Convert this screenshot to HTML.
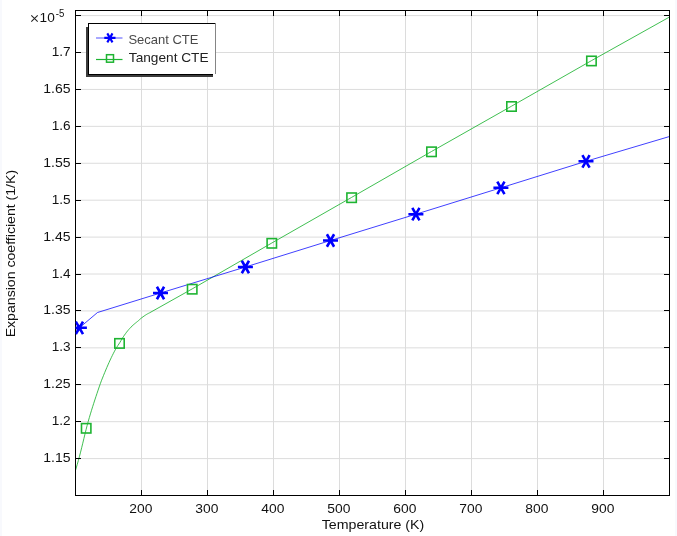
<!DOCTYPE html><html><head><meta charset="utf-8"><style>
html,body{margin:0;padding:0;background:#fff;}
body{width:677px;height:536px;overflow:hidden;position:relative;font-family:"Liberation Sans",sans-serif;}
svg{position:absolute;left:0;top:0;will-change:transform;}
text{font-family:"Liberation Sans",sans-serif;}
</style></head><body>
<svg width="677" height="536" viewBox="0 0 677 536">
<defs><clipPath id="pc"><rect x="75.5" y="10.5" width="594" height="485"/></clipPath></defs>
<rect x="0" y="0" width="677" height="536" fill="#fff"/>
<rect x="0" y="0" width="2" height="536" fill="#f8f9fd"/>
<rect x="675" y="0" width="2" height="536" fill="#f8f9fd"/>
<path d="M141.5 11V495M207.5 11V495M273.5 11V495M339.5 11V495M405.5 11V495M471.5 11V495M537.5 11V495M603.5 11V495" stroke="#dcdcdc" stroke-width="1" fill="none" shape-rendering="crispEdges"/>
<path d="M76 15.600H669M76 52.517H669M76 89.433H669M76 126.350H669M76 163.267H669M76 200.183H669M76 237.100H669M76 274.017H669M76 310.933H669M76 347.850H669M76 384.767H669M76 421.683H669M76 458.600H669" stroke="#dcdcdc" stroke-width="1" fill="none"/>
<g clip-path="url(#pc)">
<path d="M74.00 475.50 L75.10 471.76 L76.19 468.00 L77.29 464.25 L78.38 460.43 L79.48 456.42 L80.57 452.17 L81.67 447.74 L82.77 443.22 L83.86 438.65 L84.96 434.12 L86.05 429.68 L87.15 425.42 L88.24 421.40 L89.34 417.59 L90.43 413.89 L91.53 410.29 L92.63 406.78 L93.72 403.34 L94.82 399.97 L95.91 396.66 L97.01 393.39 L98.10 390.15 L99.20 386.93 L100.30 383.77 L101.39 380.79 L102.49 378.02 L103.58 375.31 L104.68 372.63 L105.77 370.00 L106.87 367.42 L107.97 364.89 L109.06 362.43 L110.16 360.03 L111.25 357.70 L112.35 355.44 L113.44 353.26 L114.54 351.17 L115.63 349.16 L116.73 347.25 L117.83 345.55 L118.92 343.98 L120.02 342.26 L121.11 340.39 L122.21 338.52 L123.30 336.80 L124.40 335.20 L125.50 333.66 L126.59 332.19 L127.69 330.81 L128.78 329.50 L129.88 328.29 L130.97 327.15 L132.07 326.07 L133.17 325.04 L134.26 324.08 L135.36 323.18 L136.45 322.30 L137.55 321.42 L138.64 320.49 L139.74 319.47 L140.83 318.48 L141.93 317.62 L143.03 316.80 L144.12 316.02 L145.22 315.27 L146.31 314.57 L147.41 313.92 L148.50 313.33 L149.60 312.80 L192.20 288.90 L271.80 243.00 L351.60 197.40 L431.50 151.50 L511.50 106.20 L591.45 60.65 L669.50 17.00 L671.00 16.20" stroke="#1eb432" stroke-width="0.85" fill="none"/>
<path d="M70.00 332.00 L79.40 327.80 L97.50 312.50 L160.50 293.00 L245.40 267.00 L330.50 240.50 L415.90 214.20 L500.90 187.80 L586.00 161.30 L669.50 136.50 L672.00 135.80" stroke="#0000ff" stroke-width="0.75" fill="none"/>
</g>
<rect x="75.5" y="10.5" width="594" height="485" stroke="#000" stroke-width="1" fill="none" shape-rendering="crispEdges"/>
<path d="M141.5 495v-5M141.5 11v5M207.5 495v-5M207.5 11v5M273.5 495v-5M273.5 11v5M339.5 495v-5M339.5 11v5M405.5 495v-5M405.5 11v5M471.5 495v-5M471.5 11v5M537.5 495v-5M537.5 11v5M603.5 495v-5M603.5 11v5M76 15.5h5M669 15.5h-5M76 52.5h5M669 52.5h-5M76 89.5h5M669 89.5h-5M76 126.5h5M669 126.5h-5M76 163.5h5M669 163.5h-5M76 200.5h5M669 200.5h-5M76 237.5h5M669 237.5h-5M76 274.5h5M669 274.5h-5M76 310.5h5M669 310.5h-5M76 347.5h5M669 347.5h-5M76 384.5h5M669 384.5h-5M76 421.5h5M669 421.5h-5M76 458.5h5M669 458.5h-5" stroke="#000" stroke-width="1" fill="none" shape-rendering="crispEdges"/>
<g clip-path="url(#pc)">
<path d="M71.90 327.80H86.90M75.80 321.56L83.00 334.04M83.00 321.56L75.80 334.04" stroke="#0000ff" stroke-width="2.6" fill="none"/>
<path d="M153.00 293.00H168.00M156.90 286.76L164.10 299.24M164.10 286.76L156.90 299.24" stroke="#0000ff" stroke-width="2.6" fill="none"/>
<path d="M237.90 267.00H252.90M241.80 260.76L249.00 273.24M249.00 260.76L241.80 273.24" stroke="#0000ff" stroke-width="2.6" fill="none"/>
<path d="M323.00 240.50H338.00M326.90 234.26L334.10 246.74M334.10 234.26L326.90 246.74" stroke="#0000ff" stroke-width="2.6" fill="none"/>
<path d="M408.40 214.20H423.40M412.30 207.96L419.50 220.44M419.50 207.96L412.30 220.44" stroke="#0000ff" stroke-width="2.6" fill="none"/>
<path d="M493.40 187.80H508.40M497.30 181.56L504.50 194.04M504.50 181.56L497.30 194.04" stroke="#0000ff" stroke-width="2.6" fill="none"/>
<path d="M578.50 161.30H593.50M582.40 155.06L589.60 167.54M589.60 155.06L582.40 167.54" stroke="#0000ff" stroke-width="2.6" fill="none"/>
<rect x="81.50" y="423.60" width="9.4" height="9.4" stroke="#1eb432" stroke-width="1.6" fill="none"/>
<rect x="114.80" y="338.70" width="9.4" height="9.4" stroke="#1eb432" stroke-width="1.6" fill="none"/>
<rect x="187.50" y="284.50" width="9.4" height="9.4" stroke="#1eb432" stroke-width="1.6" fill="none"/>
<rect x="267.10" y="238.60" width="9.4" height="9.4" stroke="#1eb432" stroke-width="1.6" fill="none"/>
<rect x="346.90" y="193.00" width="9.4" height="9.4" stroke="#1eb432" stroke-width="1.6" fill="none"/>
<rect x="426.80" y="147.10" width="9.4" height="9.4" stroke="#1eb432" stroke-width="1.6" fill="none"/>
<rect x="506.80" y="101.80" width="9.4" height="9.4" stroke="#1eb432" stroke-width="1.6" fill="none"/>
<rect x="586.75" y="56.25" width="9.4" height="9.4" stroke="#1eb432" stroke-width="1.6" fill="none"/>
</g>
<text x="70.6" y="55.5" font-size="13" text-anchor="end" fill="#111" textLength="18.9" lengthAdjust="spacingAndGlyphs">1.7</text>
<text x="70.6" y="92.5" font-size="13" text-anchor="end" fill="#111" textLength="27.3" lengthAdjust="spacingAndGlyphs">1.65</text>
<text x="70.6" y="129.5" font-size="13" text-anchor="end" fill="#111" textLength="18.9" lengthAdjust="spacingAndGlyphs">1.6</text>
<text x="70.6" y="166.5" font-size="13" text-anchor="end" fill="#111" textLength="27.3" lengthAdjust="spacingAndGlyphs">1.55</text>
<text x="70.6" y="203.5" font-size="13" text-anchor="end" fill="#111" textLength="18.9" lengthAdjust="spacingAndGlyphs">1.5</text>
<text x="70.6" y="240.5" font-size="13" text-anchor="end" fill="#111" textLength="27.3" lengthAdjust="spacingAndGlyphs">1.45</text>
<text x="70.6" y="277.5" font-size="13" text-anchor="end" fill="#111" textLength="18.9" lengthAdjust="spacingAndGlyphs">1.4</text>
<text x="70.6" y="313.5" font-size="13" text-anchor="end" fill="#111" textLength="27.3" lengthAdjust="spacingAndGlyphs">1.35</text>
<text x="70.6" y="350.5" font-size="13" text-anchor="end" fill="#111" textLength="18.9" lengthAdjust="spacingAndGlyphs">1.3</text>
<text x="70.6" y="387.5" font-size="13" text-anchor="end" fill="#111" textLength="27.3" lengthAdjust="spacingAndGlyphs">1.25</text>
<text x="70.6" y="424.5" font-size="13" text-anchor="end" fill="#111" textLength="18.9" lengthAdjust="spacingAndGlyphs">1.2</text>
<text x="70.6" y="461.5" font-size="13" text-anchor="end" fill="#111" textLength="27.3" lengthAdjust="spacingAndGlyphs">1.15</text>
<text x="140.9" y="513" font-size="13" text-anchor="middle" fill="#111" textLength="23.1" lengthAdjust="spacingAndGlyphs">200</text>
<text x="206.9" y="513" font-size="13" text-anchor="middle" fill="#111" textLength="23.1" lengthAdjust="spacingAndGlyphs">300</text>
<text x="272.9" y="513" font-size="13" text-anchor="middle" fill="#111" textLength="23.1" lengthAdjust="spacingAndGlyphs">400</text>
<text x="338.9" y="513" font-size="13" text-anchor="middle" fill="#111" textLength="23.1" lengthAdjust="spacingAndGlyphs">500</text>
<text x="404.9" y="513" font-size="13" text-anchor="middle" fill="#111" textLength="23.1" lengthAdjust="spacingAndGlyphs">600</text>
<text x="470.9" y="513" font-size="13" text-anchor="middle" fill="#111" textLength="23.1" lengthAdjust="spacingAndGlyphs">700</text>
<text x="536.9" y="513" font-size="13" text-anchor="middle" fill="#111" textLength="23.1" lengthAdjust="spacingAndGlyphs">800</text>
<text x="602.9" y="513" font-size="13" text-anchor="middle" fill="#111" textLength="23.1" lengthAdjust="spacingAndGlyphs">900</text>
<path d="M31.3 15.3L37.7 21.7M37.7 15.3L31.3 21.7" stroke="#222" stroke-width="1.05" fill="none"/>
<text x="54.8" y="22" font-size="13" text-anchor="end" fill="#111" textLength="15.2" lengthAdjust="spacingAndGlyphs">10</text>
<text x="55.8" y="16.6" font-size="10" fill="#111" textLength="8.6" lengthAdjust="spacingAndGlyphs">-5</text>
<text x="373" y="528.7" font-size="13" text-anchor="middle" fill="#111" textLength="102.5" lengthAdjust="spacingAndGlyphs">Temperature (K)</text>
<text transform="translate(14.7 253.6) rotate(-90)" x="0" y="0" font-size="13" text-anchor="middle" fill="#111" textLength="167.5" lengthAdjust="spacingAndGlyphs">Expansion coefficient (1/K)</text>
<rect x="86" y="27" width="127" height="50" fill="#3c3c3c"/>
<rect x="88" y="23" width="128" height="52" fill="#fff"/>
<path d="M88 23.5H215M88.5 23V75M88 74.5H213" stroke="#000" stroke-width="1" fill="none" shape-rendering="crispEdges"/>
<path d="M215.5 23V74" stroke="#858585" stroke-width="1" fill="none" shape-rendering="crispEdges"/>
<path d="M96 38H122.5" stroke="#a8a8ff" stroke-width="2" fill="none"/>
<path d="M104.30 37.90H115.50M107.30 33.40L112.50 42.40M112.50 33.40L107.30 42.40" stroke="#0000ff" stroke-width="2.1" fill="none"/>
<path d="M96 59.5H122.5" stroke="#1eb432" stroke-width="1.2" fill="none"/>
<rect x="106.5" y="54.7" width="7" height="7.5" stroke="#1eb432" stroke-width="1.5" fill="none"/>
<text x="128.4" y="43.6" font-size="13" fill="#4a4a4a">Secant CTE</text>
<text x="128.8" y="61.7" font-size="13" fill="#222" textLength="79.8" lengthAdjust="spacingAndGlyphs">Tangent CTE</text>
</svg></body></html>
